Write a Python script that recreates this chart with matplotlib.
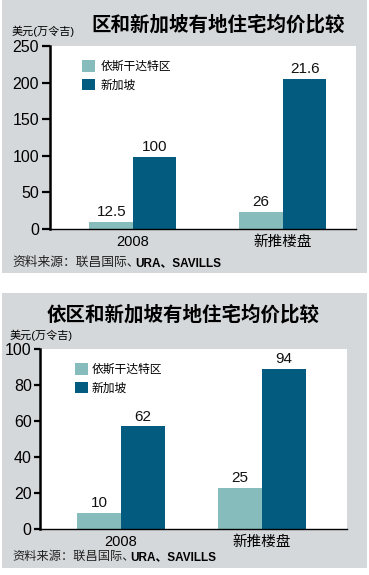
import matplotlib
matplotlib.use("Agg")
import matplotlib.pyplot as plt

plt.rcParams['font.family'] = ['Liberation Sans', 'Noto Sans CJK SC', 'DejaVu Sans']

W, H = 369, 575
LIGHT = "#86bcbc"
DARK = "#045b80"
GRAY = "#d5d8db"

series_names = ["依斯干达特区", "新加坡"]
categories = ["2008", "新推楼盘"]
unit_label = "美元(万令吉)"
source_cn = "资料来源：联昌国际、"
source_en = "URA、SAVILLS"

# top chart
top_title = "区和新加坡有地住宅均价比较"
top_light = [10, 23]
top_dark = [99, 205]
top_light_labels = ["12.5", "26"]
top_dark_labels = ["100", "21.6"]
top_ticks = [0, 50, 100, 150, 200, 250]

# bottom chart
bot_title = "依区和新加坡有地住宅均价比较"
bot_light = [9, 23]
bot_dark = [57, 89]
bot_light_labels = ["10", "25"]
bot_dark_labels = ["62", "94"]
bot_ticks = [0, 20, 40, 60, 80, 100]


def box(x0, y0, x1, y1):
    # pixel box -> figure fraction [left, bottom, width, height]
    return [x0 / W, 1 - y1 / H, (x1 - x0) / W, (y1 - y0) / H]


def ft(x, y, s, **kw):
    return fig.text(x / W, 1 - y / H, s, **kw)


fig = plt.figure(figsize=(W / 100, H / 100), dpi=100)
renderer = fig.canvas.get_renderer()
for b in [box(2, 0, 367, 273), box(2, 293, 367, 568)]:
    bg = fig.add_axes(b, zorder=0)
    bg.set_axis_off()
    bg.add_artist(plt.Rectangle((0, 0), 1, 1, transform=bg.transAxes, color=GRAY))


def panel(rect, light, dark, llab, dlab, ticks, ymax, xlim, bw, ticklen):
    ax = fig.add_axes(rect, zorder=2)
    ax.set_facecolor("white")
    x = range(len(categories))
    ax.bar([i - bw / 2 for i in x], light, bw, color=LIGHT, label=series_names[0])
    ax.bar([i + bw / 2 for i in x], dark, bw, color=DARK, label=series_names[1])
    for i in x:
        ax.text(i - bw / 2, light[i] + ymax * 0.015, llab[i], ha="center", va="bottom",
                fontsize=11, color="#111111")
        ax.text(i + bw / 2, dark[i] + ymax * 0.015, dlab[i], ha="center", va="bottom",
                fontsize=11, color="#111111")
    ax.set_xlim(*xlim)
    ax.set_ylim(0, ymax)
    ax.set_yticks(ticks)
    ax.set_xticks(list(x))
    ax.set_xticklabels(categories, fontsize=10.5)
    ax.tick_params(axis="x", length=0, pad=4)
    ax.tick_params(axis="y", length=ticklen, width=1.6, labelsize=11.5, pad=2)
    for s in ["top", "right"]:
        ax.spines[s].set_visible(False)
    ax.spines["left"].set_linewidth(1.8)
    ax.spines["bottom"].set_linewidth(1.0)
    return ax


def source_line(y, size):
    t = ft(12, y, source_cn, ha="left", va="center", fontsize=size, color="#222222")
    bb = t.get_window_extent(renderer)
    ft(bb.x1 - 4, y, source_en, ha="left", va="center", fontsize=8.5, fontweight="bold")


ax1 = panel(box(50, 46, 356, 229), top_light, top_dark, top_light_labels, top_dark_labels,
            top_ticks, 250, (-0.553, 1.487), 0.29, 6)
ax1.legend(loc="upper left", bbox_to_anchor=(0.07, 0.98), frameon=False, fontsize=8.5,
           handlelength=1.1, handleheight=1.1, handletextpad=0.5, labelspacing=0.5)
ft(218, 25, top_title, ha="center", va="center", fontsize=14, fontweight="bold",
   family=['Noto Sans CJK SC'])
ft(12, 31, unit_label, ha="left", va="center", fontsize=8)
source_line(263, 9.2)

ax2 = panel(box(40, 349, 347, 529), bot_light, bot_dark, bot_light_labels, bot_dark_labels,
            bot_ticks, 100, (-0.574, 1.603), 0.31, 4)
ax2.legend(loc="upper left", bbox_to_anchor=(0.08, 0.98), frameon=False, fontsize=8.5,
           handlelength=1.1, handleheight=1.1, handletextpad=0.3, labelspacing=0.5)
ft(183, 315, bot_title, ha="center", va="center", fontsize=14, fontweight="bold",
   family=['Noto Sans CJK SC'])
ft(10, 335, unit_label, ha="left", va="center", fontsize=8)
source_line(557, 8.8)

fig.savefig("out.png", dpi=100)
